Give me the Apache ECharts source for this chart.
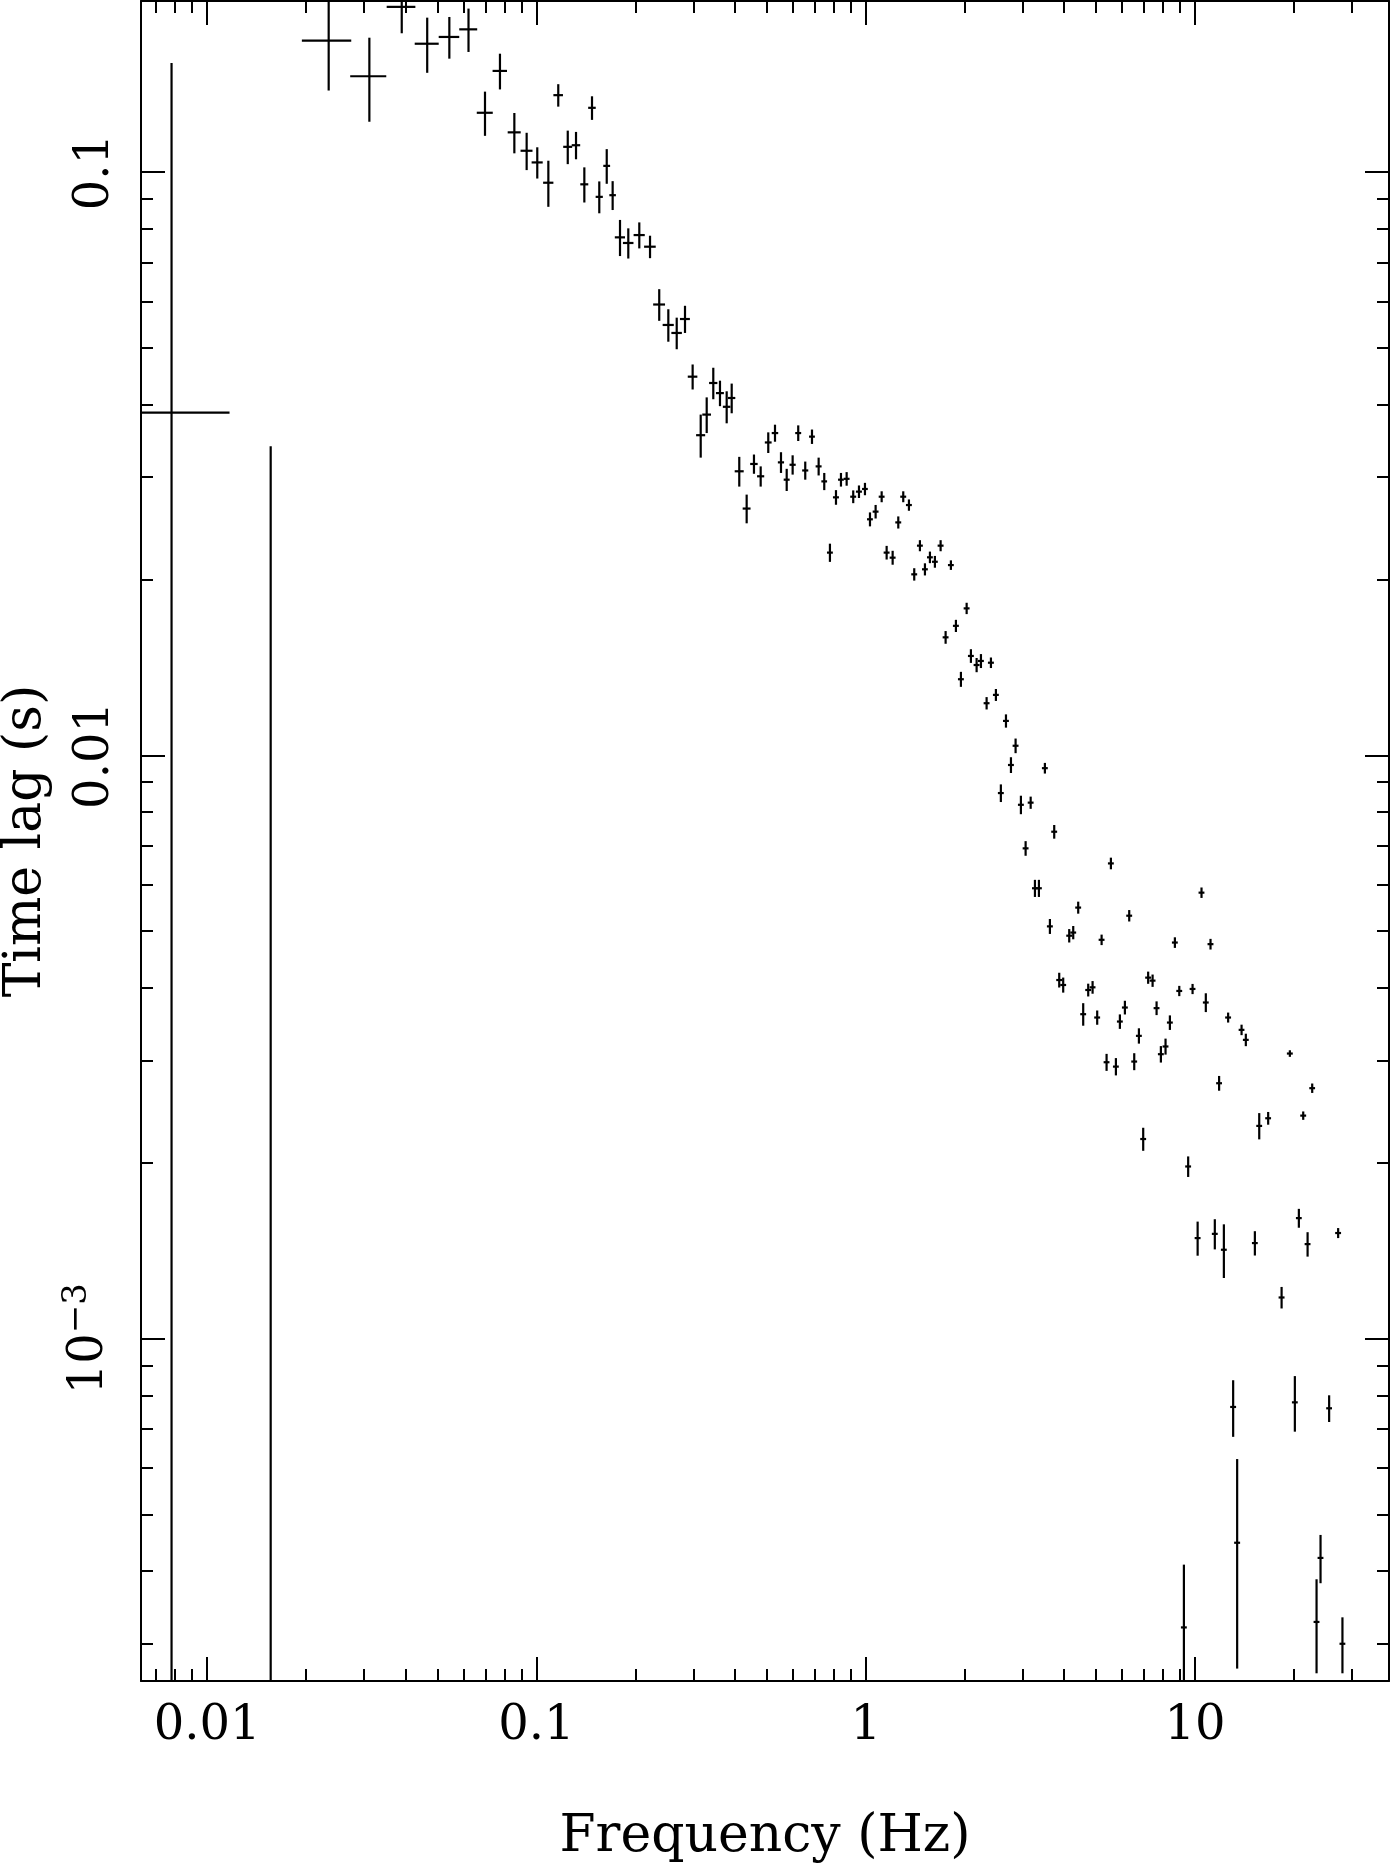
<!DOCTYPE html>
<html>
<head>
<meta charset="utf-8">
<script src="https://cdn.jsdelivr.net/npm/echarts@6/dist/echarts.min.js"></script>
<style>
html, body { margin: 0; padding: 0; background: #fff; }
#lag { width: 1390px; height: 1864px; }
</style>
</head>
<body>
<div id="lag"></div>
<script>
// frequency bins (Hz) and half widths
var freq = [
  0.0078, 0.0156, 0.0234, 0.0311, 0.0390, 0.0466, 0.0544, 0.0622, 0.0698, 0.0775,
  0.0857, 0.0934, 0.1006, 0.1087, 0.1165, 0.1245, 0.1319, 0.1398, 0.1475, 0.1552,
  0.1635, 0.1704, 0.1794, 0.1901, 0.2053, 0.2213, 0.236, 0.2515, 0.2667, 0.2826,
  0.2981, 0.3154, 0.3289, 0.3444, 0.3609, 0.3782, 0.3917, 0.413, 0.4349, 0.4577,
  0.4797, 0.5058, 0.5302, 0.5529, 0.5754, 0.5998, 0.6237, 0.6551, 0.6867, 0.7194,
  0.7482, 0.7785, 0.8121, 0.8409, 0.875, 0.9162, 0.9537, 0.9945, 1.030, 1.0715,
  1.1177, 1.1573, 1.2069, 1.2554, 1.2998, 1.3525, 1.4036, 1.4605, 1.5126, 1.5664,
  1.6218, 1.6879, 1.7479, 1.8136, 1.8785, 1.9454, 2.0247, 2.0862, 2.171, 2.2376,
  2.328, 2.3995, 2.4844, 2.572, 2.6654, 2.760, 2.851, 2.959, 3.058, 3.168,
  3.264, 3.356, 3.499, 3.624, 3.735, 3.868, 3.977, 4.148, 4.266, 4.417,
  4.574, 4.737, 4.884, 5.044, 5.202, 5.386, 5.551, 5.749, 5.911, 6.122,
  6.31, 6.535, 6.752, 6.958, 7.203, 7.43, 7.64, 7.873, 8.134, 8.385,
  8.683, 8.954, 9.248, 9.528, 9.826, 10.18, 10.46, 10.78, 11.14, 11.48,
  11.83, 12.23, 12.6, 13.05, 13.42, 13.84, 14.26, 15.19, 15.66, 16.67,
  18.31, 19.4, 20.09, 20.66, 21.3, 21.96, 22.68, 23.38, 24.04, 25.53,
  27.19, 28.02
];
var freqErr = [
  0.0039, 0.0039, 0.0040, 0.0039, 0.0039, 0.0039, 0.0039, 0.0039, 0.0039, 0.0039,
  0.0039, 0.0039, 0.0039, 0.0039, 0.0039, 0.0039, 0.0039, 0.0039, 0.0039, 0.0039,
  0.0039, 0.0039, 0.0064, 0.007, 0.008, 0.009, 0.0098, 0.0098, 0.0098, 0.0098,
  0.01, 0.01, 0.01, 0.01, 0.01, 0.01, 0.01, 0.013, 0.012, 0.012,
  0.012, 0.012, 0.012, 0.012, 0.012, 0.013, 0.013, 0.014, 0.014, 0.015,
  0.015, 0.016, 0.017, 0.017, 0.018, 0.019, 0.02, 0.02, 0.021, 0.022,
  0.023, 0.024, 0.025, 0.026, 0.027, 0.028, 0.029, 0.03, 0.031, 0.032,
  0.033, 0.035, 0.036, 0.037, 0.039, 0.04, 0.042, 0.043, 0.045, 0.046,
  0.048, 0.05, 0.051, 0.053, 0.055, 0.057, 0.059, 0.061, 0.063, 0.065,
  0.067, 0.069, 0.072, 0.075, 0.077, 0.08, 0.082, 0.085, 0.088, 0.091,
  0.094, 0.097, 0.1, 0.104, 0.107, 0.11, 0.114, 0.118, 0.121, 0.126,
  0.13, 0.134, 0.139, 0.143, 0.148, 0.153, 0.157, 0.162, 0.167, 0.172,
  0.178, 0.184, 0.19, 0.196, 0.2, 0.21, 0.215, 0.22, 0.23, 0.236,
  0.243, 0.25, 0.26, 0.27, 0.28, 0.28, 0.29, 0.31, 0.32, 0.34,
  0.38, 0.4, 0.41, 0.42, 0.44, 0.45, 0.46, 0.48, 0.49, 0.52,
  0.56, 0.57
];
// time lag (s) and 1-sigma errors
var lag = [
  0.0387, 0.0002, 0.168, 0.146, 0.192, 0.166, 0.1705, 0.1757, 0.1264, 0.1491,
  0.1170, 0.1088, 0.1039, 0.0959, 0.1355, 0.1105, 0.1112, 0.0953, 0.1289, 0.0907,
  0.1025, 0.0913, 0.0773, 0.0756, 0.0780, 0.0745, 0.0593, 0.0547, 0.0530, 0.0560,
  0.0446, 0.0354, 0.0384, 0.0435, 0.0418, 0.0396, 0.0410, 0.0307, 0.0265, 0.0316,
  0.0301, 0.0344, 0.0357, 0.0318, 0.0297, 0.0315, 0.0357, 0.0308, 0.0352, 0.0313,
  0.0295, 0.02227, 0.0277, 0.0297, 0.0298, 0.02777, 0.02833, 0.02863, 0.0254, 0.02618,
  0.02777, 0.02227, 0.02183, 0.02509, 0.02777, 0.02687, 0.02044, 0.02289, 0.02085, 0.02186,
  0.02148, 0.02289, 0.01594, 0.0212, 0.01668, 0.01351, 0.01787, 0.01481, 0.01429, 0.01452,
  0.01229, 0.01442, 0.0127, 0.00862, 0.01146, 0.00963, 0.01039, 0.00823, 0.00693, 0.0083,
  0.00592, 0.00592, 0.00951, 0.005093, 0.0074, 0.004121, 0.004041, 0.004909, 0.00497, 0.005485,
  0.003601, 0.003962, 0.004004, 0.003554, 0.00483, 0.002979, 0.00653, 0.002928, 0.003498, 0.003697,
  0.005312, 0.002987, 0.003306, 0.0022, 0.00416, 0.004111, 0.003688, 0.003075, 0.00317, 0.003484,
  0.004778, 0.003947, 0.00032, 0.001974, 0.003978, 0.001488, 0.005818, 0.003771, 0.004748, 0.001513,
  0.002742, 0.001421, 0.003554, 0.000764, 0.000447, 0.003385, 0.003254, 0.001459, 0.002317, 0.002388,
  0.001177, 0.003083, 0.000778, 0.00161, 0.002413, 0.001453, 0.002689, 0.000327, 0.000421, 0.00076,
  0.001518, 0.0003
];
var lagErr = [
  0.1151, 0.0337, 0.030, 0.024, 0.019, 0.018, 0.014, 0.015, 0.011, 0.0105,
  0.0093, 0.008, 0.0064, 0.0087, 0.006, 0.0073, 0.006, 0.0066, 0.006, 0.0057,
  0.007, 0.0052, 0.0055, 0.0045, 0.004, 0.0033, 0.0037, 0.0035, 0.0033, 0.003,
  0.0022, 0.003, 0.0027, 0.0027, 0.0021, 0.0025, 0.0024, 0.0018, 0.0015, 0.0012,
  0.0012, 0.0014, 0.0012, 0.0013, 0.0013, 0.0012, 0.0011, 0.0011, 0.001, 0.0011,
  0.001, 0.0008, 0.0008, 0.0008, 0.0008, 0.0007, 0.0007, 0.0007, 0.0007, 0.0007,
  0.0006, 0.0006, 0.0006, 0.0006, 0.0006, 0.0006, 0.0005, 0.0005, 0.0005, 0.0005,
  0.0005, 0.0005, 0.0004, 0.0004, 0.0004, 0.0004, 0.0004, 0.0004, 0.0004, 0.0004,
  0.0003, 0.0003, 0.0003, 0.0003, 0.0003, 0.0003, 0.0003, 0.0003, 0.0002, 0.0002,
  0.0002, 0.0002, 0.0002, 0.00015, 0.0002, 0.00012, 0.00012, 0.00013, 0.00013, 0.00013,
  0.00016, 0.0001, 0.0001, 0.0001, 0.0001, 0.0001, 0.00015, 0.0001, 0.0001, 0.0001,
  0.00012, 0.0001, 0.0001, 0.0001, 0.0001, 0.0001, 0.0001, 0.0001, 0.0001, 0.0001,
  0.0001, 0.00008, 0.00009, 0.00008, 0.00008, 0.0001, 0.00012, 0.00014, 0.0001, 0.00009,
  0.00008, 0.00015, 0.00007, 0.000085, 0.000175, 0.00007, 0.00008, 0.00007, 0.00012, 0.00006,
  0.00005, 0.00004, 0.000085, 0.00006, 0.00004, 0.00007, 0.00005, 0.00006, 0.00004, 0.00004,
  0.00003, 0.000033
];

// axes
var X_MIN = 0.0063, X_MAX = 38.8;
var Y_MIN = 0.000259, Y_MAX = 0.1965;
var xMajorTicks = [0.01, 0.1, 1, 10];
var xTickLabels = ['0.01', '0.1', '1', '10'];
var xMinorTicks = [0.007, 0.008, 0.009,
  0.02, 0.03, 0.04, 0.05, 0.06, 0.07, 0.08, 0.09,
  0.2, 0.3, 0.4, 0.5, 0.6, 0.7, 0.8, 0.9,
  2, 3, 4, 5, 6, 7, 8, 9, 20, 30];
var yMajorTicks = [0.001, 0.01, 0.1];
var yTickLabels = ['10^{−3}', '0.01', '0.1'];
var yMinorTicks = [0.0003, 0.0004, 0.0005, 0.0006, 0.0007, 0.0008, 0.0009,
  0.002, 0.003, 0.004, 0.005, 0.006, 0.007, 0.008, 0.009,
  0.02, 0.03, 0.04, 0.05, 0.06, 0.07, 0.08, 0.09];

var FONT = 'DejaVu Serif';
var INK = '#000';

function labelFor(v, ticks, labels) {
  for (var i = 0; i < ticks.length; i++) {
    if (Math.abs(Math.log10(v) - Math.log10(ticks[i])) < 1e-6) return labels[i];
  }
  return '';
}

function logAxis(min, max, position, ticks, tickLen, withLine) {
  return {
    type: 'log',
    logBase: 10,
    min: min,
    max: max,
    position: position,
    axisLine: { show: withLine, lineStyle: { color: INK, width: 2 } },
    axisTick: { show: true, inside: true, length: tickLen, customValues: ticks,
      lineStyle: { color: INK, width: 2 } },
    axisLabel: { show: false },
    splitLine: { show: false },
    minorTick: { show: false }
  };
}

var xBottomMajor = logAxis(X_MIN, X_MAX, 'bottom', xMajorTicks, 24, false);
xBottomMajor.axisLabel = {
  show: true, customValues: xMajorTicks, margin: 22,
  fontFamily: FONT, fontSize: 48, color: INK,
  formatter: function (v) { return labelFor(v, xMajorTicks, xTickLabels); }
};
xBottomMajor.name = 'Frequency (Hz)';
xBottomMajor.nameLocation = 'middle';
xBottomMajor.nameGap = 130;
xBottomMajor.nameTextStyle = { fontFamily: FONT, fontSize: 52, color: INK };

var yLeftMajor = logAxis(Y_MIN, Y_MAX, 'left', yMajorTicks, 24, false);
yLeftMajor.axisLabel = {
  show: true, customValues: yMajorTicks, margin: 21, rotate: 90,
  fontFamily: FONT, fontSize: 48, color: INK,
  formatter: function (v) {
    var s = labelFor(v, yMajorTicks, yTickLabels);
    var m = s.match(/^(.*)\^\{(.*)\}$/);
    return m ? '{n|' + m[1] + '}{s|' + m[2] + '}' : '{n|' + s + '}';
  },
  rich: {
    n: { fontFamily: FONT, fontSize: 48, color: INK },
    s: { fontFamily: FONT, fontSize: 34, color: INK, verticalAlign: 'top', padding: [0, 0, 26, 0] }
  }
};
yLeftMajor.name = 'Time lag (s)';
yLeftMajor.nameLocation = 'middle';
yLeftMajor.nameGap = 68;
yLeftMajor.nameTextStyle = { fontFamily: FONT, fontSize: 52, color: INK };

function renderCross(params, api) {
  var f = api.value(0), df = api.value(1), t = api.value(2), dt = api.value(3);
  var lo = t - dt > 0 ? t - dt : Y_MIN / 10;
  var fl = f - df > 0 ? f - df : X_MIN / 10;
  var top = api.coord([f, t + dt]);
  var bottom = api.coord([f, lo]);
  var mid = api.coord([f, t]);
  var left = api.coord([fl, t]);
  var right = api.coord([f + df, t]);
  var style = { stroke: INK, lineWidth: 2.2, fill: null };
  return {
    type: 'group',
    children: [
      { type: 'line', shape: { x1: top[0], y1: top[1], x2: bottom[0], y2: bottom[1] }, style: style },
      { type: 'line', shape: { x1: left[0], y1: mid[1], x2: right[0], y2: mid[1] }, style: style }
    ]
  };
}

var points = [];
for (var i = 0; i < freq.length; i++) {
  points.push([freq[i], freqErr[i], lag[i], lagErr[i]]);
}

var lagChart = echarts.init(document.getElementById('lag'));
var option = {
  animation: false,
  backgroundColor: '#fff',
  grid: { left: 141, right: 1, top: 1, bottom: 183, containLabel: false, outerBoundsMode: 'none' },
  xAxis: [
    logAxis(X_MIN, X_MAX, 'bottom', xMinorTicks, 12, true),
    xBottomMajor,
    logAxis(X_MIN, X_MAX, 'top', xMinorTicks, 12, true),
    logAxis(X_MIN, X_MAX, 'top', xMajorTicks, 24, false)
  ],
  yAxis: [
    logAxis(Y_MIN, Y_MAX, 'left', yMinorTicks, 12, true),
    yLeftMajor,
    logAxis(Y_MIN, Y_MAX, 'right', yMinorTicks, 12, true),
    logAxis(Y_MIN, Y_MAX, 'right', yMajorTicks, 24, false)
  ],
  series: [{
    type: 'custom',
    xAxisIndex: 0,
    yAxisIndex: 0,
    clip: true,
    silent: true,
    encode: { x: 0, y: 2 },
    data: points,
    renderItem: renderCross
  }]
};
lagChart.setOption(option);
</script>
</body>
</html>
